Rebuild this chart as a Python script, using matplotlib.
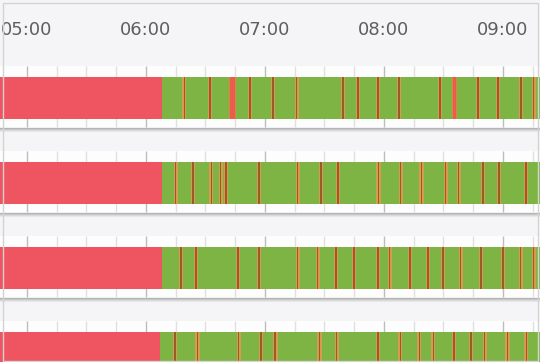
import matplotlib
matplotlib.use("Agg")
import matplotlib.pyplot as plt
from matplotlib.patches import Rectangle

# ---- data -------------------------------------------------------------
hour_labels = ["05:00", "06:00", "07:00", "08:00", "09:00"]

# each row: time the state switches from down (red) to up (green)
switch_times = ["06:08:00", "06:08:00", "06:08:00", "06:07:00"]

# short interruptions after the switch (start time, duration in seconds)
row1_events = ["06:18:42", "06:31:48", "06:42:18", "06:51:54", "07:03:30", "07:15:36",
               "07:38:48", "07:46:24", "07:56:30", "08:07:00", "08:27:42", "08:34:42",
               "08:46:54", "08:56:54", "09:08:30", "09:15:06"]
row1_durations = [70, 70, 160, 70, 75, 60, 70, 60, 70, 65, 70, 100, 75, 70, 75, 60]

row2_events = ["06:14:36", "06:23:12", "06:32:18", "06:37:18", "06:39:48", "06:56:30",
               "07:16:06", "07:27:42", "07:36:18", "07:56:30", "08:08:00", "08:18:12",
               "08:30:42", "08:37:18", "08:49:24", "08:57:30", "09:11:06"]
row2_durations = [60, 60, 75, 55, 75, 75, 60, 70, 60, 80, 60, 80, 60, 60, 75, 60, 60]

row3_events = ["06:17:06", "06:24:42", "06:45:54", "06:56:30", "07:16:06", "07:26:12",
               "07:35:18", "07:44:24", "07:56:30", "08:02:30", "08:12:36", "08:21:42",
               "08:29:12", "08:38:18", "08:48:24", "08:59:30", "09:08:30", "09:15:06"]
row3_durations = [75, 75, 70, 75, 60, 60, 75, 60, 70, 60, 75, 60, 80, 60, 75, 70, 60, 60]

row4_events = ["06:14:04", "06:25:22", "06:46:11", "06:57:29", "07:04:26", "07:27:00",
               "07:35:38", "07:56:28", "08:07:46", "08:17:21", "08:24:18", "08:34:41",
               "08:43:22", "08:50:18", "09:01:37", "09:11:09"]
row4_durations = [70, 70, 70, 70, 95, 70, 70, 75, 60, 60, 70, 70, 60, 60, 75, 75]

rows = [(row1_events, row1_durations), (row2_events, row2_durations),
        (row3_events, row3_durations), (row4_events, row4_durations)]

range_start, range_end = "04:40:00", "09:30:00"


def to_min(s):
    h, m, sec = (int(v) for v in s.split(":"))
    return h * 60 + m + sec / 60.0


# ---- styling ----------------------------------------------------------
RED = "#ef5560"
GREEN = "#7db443"
STRIPE_CORE = "#9c5a28"
STRIPE_HALO = "#d49c4c"
STRIPE_LONG = "#ea5c4c"
BG = "#f5f5f7"

fig = plt.figure(figsize=(5.4, 3.62), dpi=100)
fig.patch.set_facecolor(BG)
ax = fig.add_axes([0, 0, 1, 1])
ax.set_facecolor(BG)
ax.set_xlim(286.4, 558.7)
ax.set_ylim(362, 0)
ax.axis("off")

# hour labels along the top
hour_pos = [to_min(h + ":00") for h in hour_labels]
for pos, lab in zip(hour_pos, hour_labels):
    ax.text(pos, 30, lab, ha="center", va="center", fontsize=13,
            color="#5e5e5e", family="DejaVu Sans")

row_top0, row_pitch, bar_h = 77, 85, 42
grid_minutes = range(285, 570, 15)

for i, (events, durations) in enumerate(rows):
    top = row_top0 + i * row_pitch
    bottom = top + bar_h
    # white band carrying the tick marks
    ax.add_patch(Rectangle((280, top - 11), 300, bar_h + 19, facecolor="#fdfdfd",
                           edgecolor="none", zorder=1))
    for m in grid_minutes:
        major = (m % 60 == 0)
        ax.plot([m, m], [top - 11, bottom + 8],
                color="#bdbdbd" if major else "#e0e0e0",
                lw=1.0, zorder=2, solid_capstyle="butt")
    # soft shadow line under the band
    for k, c in enumerate(["#b3b3b3", "#c6c6c6", "#d9d9d9", "#e8e8e8"]):
        ax.axhline(bottom + 8.5 + k, color=c, lw=0.8, zorder=1.5)

    sw = to_min(switch_times[i])
    rs, re_ = to_min(range_start), to_min(range_end)
    ax.broken_barh([(rs, sw - rs)], (top, bar_h), facecolors=RED, zorder=3)
    ax.broken_barh([(sw, re_ - sw)], (top, bar_h), facecolors=GREEN, zorder=3)

    for ev, dur in zip(events, durations):
        s = to_min(ev)
        d = dur / 60.0
        if dur >= 100:
            ax.broken_barh([(s - 0.4, d + 0.8)], (top, bar_h),
                           facecolors="#dd8446", zorder=4)
            ax.broken_barh([(s, d)], (top, bar_h), facecolors=STRIPE_LONG, zorder=5)
        else:
            ax.broken_barh([(s - 0.5, d + 1.0)], (top, bar_h),
                           facecolors=STRIPE_HALO, zorder=4)
            ax.broken_barh([(s + d * 0.2, d * 0.6)], (top, bar_h),
                           facecolors=STRIPE_CORE, zorder=5)

# outer frame
fig.add_artist(Rectangle((2.5 / 540, 1.5 / 362), 535 / 540, 358 / 362,
                         transform=fig.transFigure, facecolor="none",
                         edgecolor="#d3d3d3", lw=1.0, zorder=10))

fig.savefig("out.png", dpi=100, facecolor=BG)
